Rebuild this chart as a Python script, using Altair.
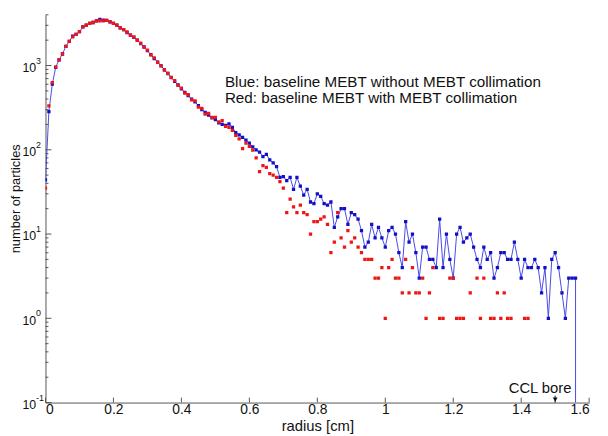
import altair as alt
import pandas as pd

# ---------------- data ----------------
BIN_WIDTH = 0.01  # radial bin width [cm]

# Blue: baseline MEBT without MEBT collimation (one value per bin, bins 0..156)
blue_counts = [
    44, 284, 600, 950, 1170, 1370, 1690, 1930, 2230, 2340,
    2520, 2870, 3010, 3160, 3240, 3380, 3520, 3450, 3430, 3300,
    3160, 3010, 2800, 2660, 2460, 2300, 2160, 2000, 1820, 1660,
    1500, 1350, 1210, 1100, 990, 890, 800, 725, 650, 590,
    530, 480, 440, 400, 370, 335, 300, 277, 258, 240,
    228, 209, 200, 195, 203, 185, 160, 150, 140, 130,
    120, 108, 100, 94, 83, 88, 76, 70, 63, 47,
    48, 43, 47, 34, 47, 37, 29, 34, 24, 23,
    30, 28, 23, 22, 24, 12, 16, 20, 20, 13,
    18, 17, 15, 11, 7, 8, 13, 9, 12, 9,
    7, 11, 12, 10, 6, 4, 14, 8, 10, 6,
    3, 7, 7, 5, 5, 4, 15, 4, 10, 5,
    3, 10, 12, 8, 9, 10, 7, 5, 4, 7,
    5, 6, 3, 4, 6, 6, 5, 5, 8, 5,
    3, 5, 4, 4, 5, 4, 2, 4, 1, 5,
    6, 4, 2, 1, 3, 3, 3,
]

# Red: baseline MEBT with MEBT collimation (bins with non-zero counts only)
red_bins = list(range(0, 115)) + [116, 117, 119, 120, 121, 122, 123, 125, 127, 128,
                                  129, 131, 132, 133, 134, 135, 136, 137, 141, 142]
red_counts = [
    35, 333, 627, 958, 1170, 1370, 1690, 1930, 2190, 2340,
    2520, 2870, 3010, 3160, 3240, 3380, 3400, 3390, 3430, 3300,
    3160, 3010, 2800, 2660, 2500, 2300, 2180, 2000, 1850, 1650,
    1520, 1340, 1230, 1090, 1000, 880, 810, 720, 660, 580,
    540, 470, 450, 390, 380, 320, 310, 265, 270, 243,
    243, 215, 222, 190, 185, 170, 148, 135, 103, 120,
    110, 99, 80, 55, 65, 62, 52, 50, 47, 42,
    35, 18, 26, 21, 18, 22, 18, 17, 10, 14,
    14, 15, 16, 13, 6, 8, 18, 9, 7, 11,
    8, 9, 7, 6, 5, 5, 5, 3, 3, 4,
    1, 4, 5, 3, 3, 2, 5, 2, 4, 2,
    2, 3, 1, 2, 4,
    1, 1, 3, 3, 1, 1, 1, 2, 3, 1,
    3, 1, 1, 2, 1, 2, 1, 1, 1, 1,
]

x_ticks = [0, 0.2, 0.4, 0.6, 0.8, 1.0, 1.2, 1.4, 1.6]
y_major = [0.1, 1, 10, 100, 1000]
y_exponents = ["-1", "0", "1", "2", "3"]
y_minor = [m * d for d in (0.1, 1, 10, 100) for m in range(2, 10)] + [2000, 3000, 4000]

legend_lines = ["Blue: baseline MEBT without MEBT collimation",
                "Red: baseline MEBT with MEBT collimation"]

# ---------------- frames ----------------
n_blue = len(blue_counts)
blue_df = pd.DataFrame({
    "idx": list(range(n_blue)) + [n_blue],
    "radius": [i * BIN_WIDTH for i in range(n_blue)] + [(n_blue - 1) * BIN_WIDTH],
    "count": blue_counts + [1e-3],   # histogram drops to zero after the last bin
})
red_df = pd.DataFrame({"radius": [b * BIN_WIDTH for b in red_bins], "count": red_counts})

W, H = 551, 393
FONT = "Liberation Sans"
xs = alt.Scale(domain=[0, 1.6], nice=False, zero=False)
ys = alt.Scale(type="log", domain=[0.1, 4000], nice=False)

x_axis = alt.Axis(
    values=x_ticks, ticks=False, grid=False, labelExpr="format(datum.value, '~g')",
    labelFontSize=14, labelFont=FONT, labelColor="#111", labelPadding=0,
    domainColor="#555", title="radius [cm]", titleFont=FONT, titleFontSize=15,
    titleFontWeight="normal", titleColor="#111", titleY=23, titleBaseline="middle")
y_axis = alt.Axis(
    values=y_major, ticks=False, grid=False, labelExpr="'10'", labelFontSize=12.5,
    labelFont=FONT, labelColor="#111", labelPadding=10, labelOffset=2,
    domainColor="#555", title="number of particles", titleFont=FONT, titleFontSize=13,
    titleFontWeight="normal", titleColor="#111", titleX=-30.5, titleY=186,
    titleBaseline="middle", titleAngle=-90)


def xq(field):
    return alt.X(field, type="quantitative", scale=xs, axis=x_axis)


def yq(field):
    return alt.Y(field, type="quantitative", scale=ys, axis=y_axis)


blue_line = alt.Chart(blue_df).mark_line(color="#4848e8", strokeWidth=1, clip=True).encode(
    x=xq("radius"), y=yq("count"), order="idx:Q")
blue_pts = alt.Chart(blue_df).mark_square(size=11, color="#1010c8", opacity=1, clip=True).encode(
    x=xq("radius"), y=yq("count"))
red_pts = alt.Chart(red_df).mark_square(size=11, color="#f01414", opacity=1, clip=True).encode(
    x=xq("radius"), y=yq("count"))

# inward ticks
ymaj_df = pd.DataFrame({"count": y_major, "e": y_exponents})
ymin_df = pd.DataFrame({"count": y_minor})
xt_df = pd.DataFrame({"radius": x_ticks})
ymaj_ticks = alt.Chart(ymaj_df).mark_rule(color="#555", strokeWidth=1).encode(
    y=yq("count"), x=alt.value(0), x2=alt.value(6))
ymin_ticks = alt.Chart(ymin_df).mark_rule(color="#555", strokeWidth=1).encode(
    y=yq("count"), x=alt.value(0), x2=alt.value(3))
x_tick_marks = alt.Chart(xt_df).mark_rule(color="#555", strokeWidth=1).encode(
    x=xq("radius"), y=alt.value(H), y2=alt.value(H - 5))
exponents = alt.Chart(ymaj_df).mark_text(
    align="left", baseline="middle", dx=-9.5, dy=-5, fontSize=9, font=FONT, color="#111").encode(
    y=yq("count"), x=alt.value(0), text="e:N")

# annotations
legend_df = pd.DataFrame({"radius": [0.528, 0.528], "count": [643, 406], "t": legend_lines})
legend_txt = alt.Chart(legend_df).mark_text(
    align="left", baseline="middle", fontSize=15.4, font=FONT, color="#111").encode(
    x=xq("radius"), y=yq("count"), text="t:N")

ccl_df = pd.DataFrame({"radius": [1.548], "count": [0.149], "t": ["CCL bore"]})
ccl_txt = alt.Chart(ccl_df).mark_text(
    align="right", baseline="middle", fontSize=15, font=FONT, color="#111").encode(
    x=xq("radius"), y=yq("count"), text="t:N")
arrow_df = pd.DataFrame({"radius": [1.5], "count": [0.121], "bottom": [0.1]})
arrow_line = alt.Chart(arrow_df).mark_rule(color="#111", strokeWidth=1).encode(
    x=xq("radius"), y=yq("count"), y2="bottom:Q")
arrow_head = alt.Chart(arrow_df).mark_point(
    shape="triangle-down", filled=True, size=24, color="#111", opacity=1, yOffset=-3).encode(
    x=xq("radius"), y=alt.Y("bottom:Q", scale=ys, axis=y_axis))

chart = alt.layer(
    blue_line, blue_pts, red_pts, ymaj_ticks, ymin_ticks, x_tick_marks, exponents,
    legend_txt, ccl_txt, arrow_line, arrow_head,
).properties(
    width=W, height=H,
    autosize=alt.AutoSizeParams(type="none"),
    padding={"left": 38, "top": 4, "right": 11, "bottom": 31},
    background="white",
).configure_view(stroke=None)

chart.save("out.html", embed_options={"renderer": "svg", "actions": False})
